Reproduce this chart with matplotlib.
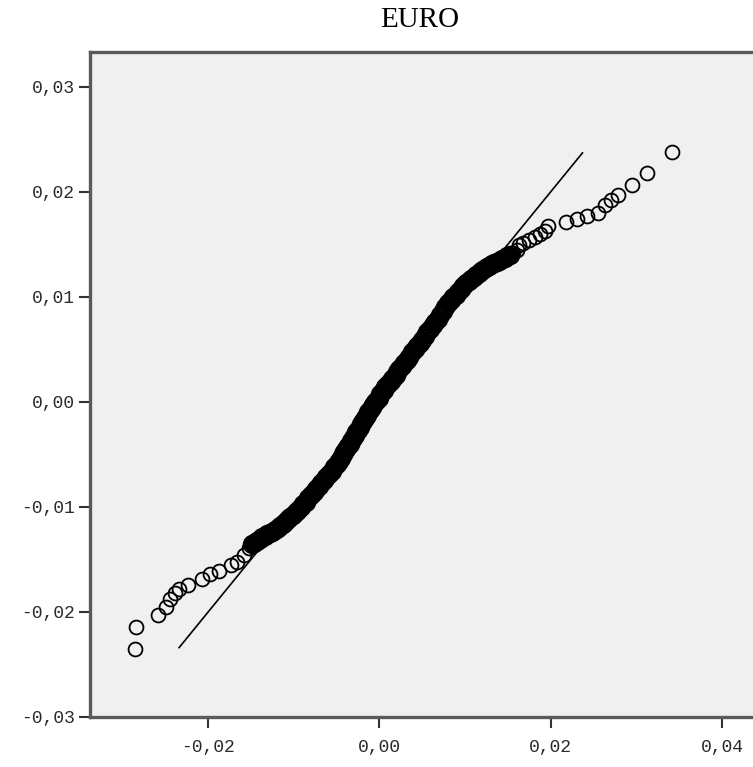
import matplotlib
matplotlib.use("Agg")
import matplotlib.pyplot as plt
from matplotlib import ticker

# observed value vs expected normal value, lower tail
tail_lo_x = [-0.0286, -0.0284, -0.0259, -0.0249, -0.0245, -0.0239, -0.0234,
             -0.0223, -0.0207, -0.0198, -0.0187, -0.0173, -0.0166, -0.0158,
             -0.0152]
tail_lo_y = [-0.0235, -0.0214, -0.0203, -0.0195, -0.0188, -0.0182, -0.0178,
             -0.0174, -0.0169, -0.0164, -0.0161, -0.0155, -0.0152, -0.0146,
             -0.0139]

# dense middle of the distribution
core_x = [-0.0149, -0.0146, -0.0143, -0.0140, -0.0137, -0.0134, -0.0131,
          -0.0128, -0.0125, -0.0122, -0.0119, -0.0116, -0.0113, -0.0110, -0.0107,
          -0.0104, -0.0101, -0.0098, -0.0095, -0.0092, -0.0089, -0.0086, -0.0083,
          -0.0080, -0.0077, -0.0074, -0.0071, -0.0068, -0.0065, -0.0062, -0.0059,
          -0.0056, -0.0053, -0.0050, -0.0047, -0.0045, -0.0043, -0.0041, -0.0039,
          -0.0037, -0.0035, -0.0033, -0.0031, -0.0029, -0.0027, -0.0025, -0.0023,
          -0.0021, -0.0019, -0.0017, -0.0015, -0.0013, -0.0011, -0.0009, -0.0007,
          -0.0005, -0.0003, -0.0001, 0.0001, 0.0003, 0.0005, 0.0007, 0.0009,
          0.0011, 0.0013, 0.0015, 0.0017, 0.0019, 0.0021, 0.0023, 0.0026,
          0.0029, 0.0032, 0.0035, 0.0038, 0.0041, 0.0044, 0.0047, 0.0050,
          0.0053, 0.0056, 0.0059, 0.0062, 0.0065, 0.0068, 0.0071, 0.0074,
          0.0077, 0.0080, 0.0083, 0.0086, 0.0089, 0.0092, 0.0095, 0.0098,
          0.0101, 0.0104, 0.0107, 0.0110, 0.0113, 0.0116, 0.0119, 0.0122,
          0.0125, 0.0128, 0.0131, 0.0134, 0.0137, 0.0140, 0.0143, 0.0146,
          0.0149, 0.0152]
core_y = [-0.0135, -0.0134, -0.0132, -0.0131, -0.0129, -0.0128, -0.0126,
          -0.0125, -0.0124, -0.0122, -0.0120, -0.0118, -0.0116, -0.0114, -0.0112,
          -0.0110, -0.0108, -0.0105, -0.0103, -0.0100, -0.0097, -0.0095, -0.0092,
          -0.0089, -0.0086, -0.0083, -0.0080, -0.0077, -0.0074, -0.0072, -0.0069,
          -0.0066, -0.0062, -0.0059, -0.0056, -0.0053, -0.0050, -0.0048, -0.0045,
          -0.0042, -0.0040, -0.0037, -0.0034, -0.0032, -0.0029, -0.0027, -0.0024,
          -0.0021, -0.0018, -0.0015, -0.0013, -0.0010, -0.0008, -0.0005, -0.0003,
          0.0000, 0.0002, 0.0004, 0.0007, 0.0009, 0.0011, 0.0014, 0.0016,
          0.0018, 0.0020, 0.0022, 0.0024, 0.0026, 0.0028, 0.0031, 0.0034,
          0.0037, 0.0040, 0.0043, 0.0047, 0.0050, 0.0053, 0.0056, 0.0059,
          0.0063, 0.0066, 0.0069, 0.0073, 0.0076, 0.0079, 0.0083, 0.0086,
          0.0090, 0.0094, 0.0097, 0.0100, 0.0102, 0.0105, 0.0107, 0.0110,
          0.0113, 0.0115, 0.0117, 0.0119, 0.0121, 0.0123, 0.0125, 0.0126,
          0.0128, 0.0129, 0.0131, 0.0132, 0.0133, 0.0134, 0.0136, 0.0137,
          0.0139, 0.0140]

# upper tail
tail_hi_x = [0.0156, 0.0160, 0.0163, 0.0168, 0.0175, 0.0181, 0.0187, 0.0193,
             0.0197, 0.0218, 0.0231, 0.0242, 0.0255, 0.0263, 0.0270, 0.0278,
             0.0295, 0.0312, 0.0342]
tail_hi_y = [0.0142, 0.0145, 0.0149, 0.0151, 0.0154, 0.0157, 0.0160, 0.0163,
             0.0167, 0.0171, 0.0174, 0.0177, 0.0180, 0.0187, 0.0192, 0.0197,
             0.0206, 0.0218, 0.0238]

# ends of the normal reference line
line_x = [-0.0234, 0.0237]
line_y = [-0.0234, 0.0237]

xticks = [-0.02, 0.0, 0.02, 0.04]
yticks = [-0.03, -0.02, -0.01, 0.0, 0.01, 0.02, 0.03]

fig = plt.figure(figsize=(7.53, 7.67), dpi=100)
ax = fig.add_axes([0.1195, 0.0652, 0.9077, 0.867])
ax.set_facecolor('#f0f0f0')

ax.plot(line_x, line_y, color='black', lw=1.2, zorder=2)
mk = dict(ls='none', marker='o', mfc='none', mec='black', zorder=3)
ax.plot(tail_lo_x, tail_lo_y, ms=10, mew=1.3, **mk)
ax.plot(tail_hi_x, tail_hi_y, ms=10, mew=1.3, **mk)
# the middle points sit on top of each other and read as one solid band
ax.plot(core_x, core_y, ms=11, mew=3.0, **mk)

ax.set_xlim(-0.0338, 0.046)
ax.set_ylim(-0.03, 0.0333)
ax.set_xticks(xticks)
ax.set_yticks(yticks)

comma = ticker.FuncFormatter(lambda v, p: ('%.2f' % v).replace('.', ','))
ax.xaxis.set_major_formatter(comma)
ax.yaxis.set_major_formatter(comma)

for side in ['left', 'top', 'bottom', 'right']:
    ax.spines[side].set_color('#5a5a5a')
    ax.spines[side].set_linewidth(2.4)

ax.tick_params(axis='both', direction='out', length=8, width=1.5, color='#333333',
               labelcolor='#2a2a2a', labelsize=13)
ax.tick_params(axis='x', pad=8)
ax.tick_params(axis='y', pad=3)
for lab in ax.get_xticklabels() + ax.get_yticklabels():
    lab.set_family('Liberation Mono')

fig.text(420 / 753, 0.974, 'EURO', ha='center', va='center',
         family='Liberation Serif', fontsize=21)

fig.savefig('out.png', dpi=100)
